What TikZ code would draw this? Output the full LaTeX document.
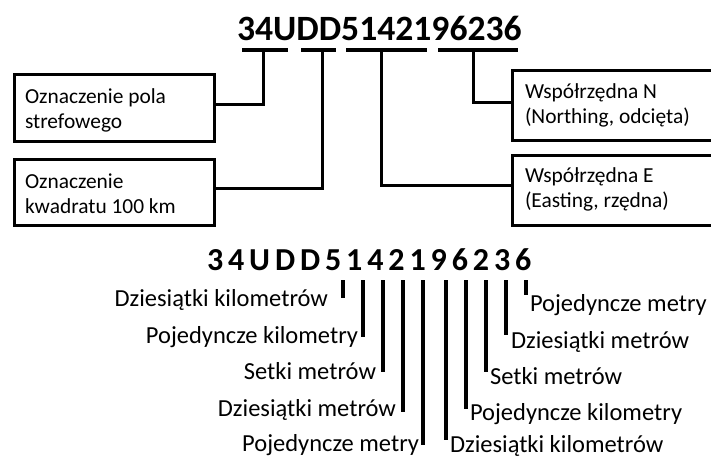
\documentclass[tikz,border=0pt]{standalone}
\usepackage{fontspec}
\setmainfont{Carlito}
\newfontfamily\spacedfont[LetterSpace=15.3]{Carlito}

\begin{document}
\begin{tikzpicture}[x=1pt,y=-1pt,
  every node/.style={inner sep=0pt, outer sep=0pt, text=black},
  bar/.style={line width=4pt},
  wire/.style={line width=3pt},
  tickline/.style={line width=3.2pt},
  frame/.style={draw, line width=3pt, anchor=north west, minimum height=68pt},
  boxtext/.style={anchor=north west, align=left, font=\fontsize{21.4}{25.5}\selectfont},
  digitlabel/.style={font=\fontsize{24.5}{28}\selectfont}]

\useasboundingbox (0,0) rectangle (711,458);
\clip (0,0) rectangle (711,458);
\fill[white] (0,0) rectangle (711,458);

% ---------- upper part: grouping of the reference ----------
\node[anchor=base west, font=\fontsize{35.6}{40}\selectfont\bfseries] (code) at (237,40) {34UDD5142196236};

% underline bars below the groups of characters
\coordinate (b1w) at (242,50); \coordinate (b1e) at (288,50); \coordinate (s1) at (263,50);
\coordinate (b2w) at (301,50); \coordinate (b2e) at (336,50); \coordinate (s2) at (322,50);
\coordinate (b3w) at (346,50); \coordinate (b3e) at (427,50); \coordinate (s3) at (381,50);
\coordinate (b4w) at (438,50); \coordinate (b4e) at (518,50); \coordinate (s4) at (473,50);
\foreach \i in {1,...,4} \draw[bar] (b\i w) -- (b\i e);

% boxes
\node[frame, minimum width=200pt, minimum height=67pt] (box1) at (14,74) {};
\node[frame, minimum width=200pt, minimum height=66pt] (box2) at (14,159) {};
\node[frame, minimum width=240pt, minimum height=70pt] (boxN) at (512,70) {};
\node[frame, minimum width=240pt, minimum height=70pt] (boxE) at (512,155) {};

\node[boxtext] (t1) at (25,85.15) {\strut Oznaczenie pola\\strefowego};
\node[boxtext] (t2) at (25,170.15) {\strut Oznaczenie\\kwadratu 100 km};
\node[boxtext] (tN) at (525,80.15) {\strut Współrzędna N\\(Northing, odcięta)};
\node[boxtext] (tE) at (525,164.15) {\strut Współrzędna E\\(Easting, rzędna)};

% connectors from the bars to the boxes
\draw[wire] (s1) |- ([yshift=3.5pt]box1.east);
\draw[wire] (s2) |- ([yshift=4pt]box2.east);
\draw[wire] (s3) |- ([yshift=5pt]boxE.west);
\draw[wire] (s4) |- ([yshift=3pt]boxN.west);

% ---------- lower part: meaning of each digit ----------
\node[anchor=base west, font=\fontsize{32}{36}\spacedfont\bfseries] (code2) at (207,270) {34UDD5142196236};

% tick tops
\foreach \n/\x in {1/343,2/363,3/383,4/403,5/423,6/446,7/466,8/486,9/506,10/526}
  \coordinate (p\n) at (\x,280);
% tick ends
\coordinate (e1) at (343,298);
\coordinate (e2) at (363,337);
\coordinate (e3) at (383,372);
\coordinate (e4) at (403,412);
\coordinate (e5) at (423,445);
\coordinate (e6) at (446,440);
\coordinate (e7) at (466,409);
\coordinate (e8) at (486,372);
\coordinate (e9) at (506,335);
\coordinate (e10) at (526,295);
\foreach \n in {1,...,10} \draw[tickline] (p\n) -- (e\n);

% labels left of the ticks (easting)
\node[digitlabel, anchor=base east] (l1) at (328,306) {Dziesiątki kilometrów};
\node[digitlabel, anchor=base east] (l2) at (358,343) {Pojedyncze kilometry};
\node[digitlabel, anchor=base east] (l3) at (376,379) {Setki metrów};
\node[digitlabel, anchor=base east] (l4) at (396,416) {Dziesiątki metrów};
\node[digitlabel, anchor=base east] (l5) at (419,451) {Pojedyncze metry};

% labels right of the ticks (northing)
\node[digitlabel, anchor=base west] (r6) at (450,452) {Dziesiątki kilometrów};
\node[digitlabel, anchor=base west] (r7) at (470,420) {Pojedyncze kilometry};
\node[digitlabel, anchor=base west] (r8) at (490,384) {Setki metrów};
\node[digitlabel, anchor=base west] (r9) at (511,348) {Dziesiątki metrów};
\node[digitlabel, anchor=base west] (r10) at (530,311) {Pojedyncze metry};
\end{tikzpicture}
\end{document}
